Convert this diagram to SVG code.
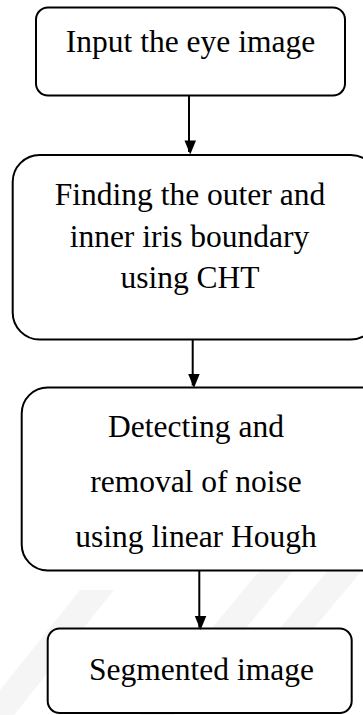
<svg xmlns="http://www.w3.org/2000/svg" width="363" height="715" viewBox="0 0 363 715">
  <defs>
    <marker id="arrow" markerWidth="14" markerHeight="17" refX="14" refY="8.5" orient="auto" markerUnits="userSpaceOnUse" viewBox="0 0 17 14">
      <path d="M0,0 L17,7 L0,14 Z" fill="#000"/>
    </marker>
    <style>
      .box { fill: #fff; stroke: #000; stroke-width: 2; }
      .label { font-family: "Liberation Serif", "Times New Roman", serif; font-size: 31.5px; fill: #000; text-anchor: middle; }
      .edge { stroke: #000; stroke-width: 2; fill: none; }
      .band { fill: #f5f5f5; }
    </style>
  </defs>
  <rect width="363" height="715" fill="#fff"/>

  <!-- faint diagonal background bands -->
  <g id="bands">
    <polygon class="band" points="-20,715 14,715 114,590 80,590"/>
    <polygon class="band" points="140,715 174,715 294,570 260,570"/>
    <polygon class="band" points="270,640 304,640 404,520 370,520"/>
  </g>

  <g id="n1">
    <rect class="box" x="36" y="7.5" width="309" height="88" rx="12"/>
    <text class="label" x="190.5" y="51.5">Input the eye image</text>
  </g>

  <g id="n2">
    <rect class="box" x="12.7" y="155" width="365" height="184.5" rx="27"/>
    <text class="label" x="190" y="205">Finding the outer and</text>
    <text class="label" x="189.5" y="246.5">inner iris boundary</text>
    <text class="label" x="190" y="288">using CHT</text>
  </g>

  <g id="n3">
    <rect class="box" x="21.7" y="387.5" width="365" height="183" rx="26"/>
    <text class="label" x="196" y="436.5">Detecting and</text>
    <text class="label" x="196" y="491.5">removal of noise</text>
    <text class="label" x="196" y="546.5">using linear Hough</text>
  </g>

  <g id="n4">
    <rect class="box" x="47.7" y="628.5" width="304" height="84.5" rx="12"/>
    <text class="label" x="201.5" y="679.5">Segmented image</text>
  </g>

  <g id="connectors">
    <line class="edge" x1="189" y1="96" x2="189" y2="152" marker-end="url(#arrow)"/>
    <line class="edge" x1="192.7" y1="340" x2="192.7" y2="385.5" marker-end="url(#arrow)"/>
    <line class="edge" x1="199.3" y1="571" x2="199.3" y2="627.5" marker-end="url(#arrow)"/>
  </g>
</svg>
